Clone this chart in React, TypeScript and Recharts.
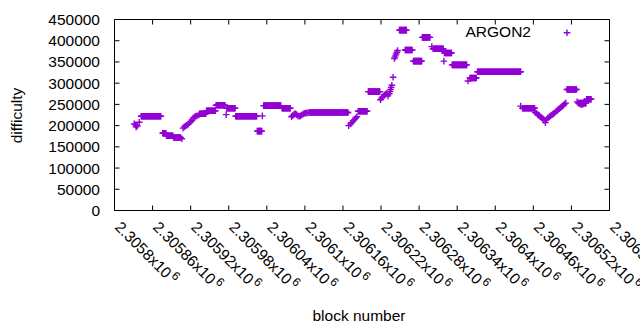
import React from 'react';
import { ScatterChart, Scatter, XAxis, YAxis, ReferenceArea, Legend } from 'recharts';

const FONT = '"Liberation Sans", Arial, Helvetica, sans-serif';
const FONT_SIZE = 15.5;
const COLOR = '#9400d3';
const SERIES_NAME = 'ARGON2';

const PLOT_TOP = 19.5;
const PLOT_BOTTOM = 210.5;
const PLOT_LEFT = 114.5;
const PLOT_RIGHT = 609.5;
const TICK_LEN = 5;

const xTicks = [
  2305800, 2305860, 2305920, 2305980, 2306040, 2306100, 2306160,
  2306220, 2306280, 2306340, 2306400, 2306460, 2306520, 2306580,
];
const yTicks = [0, 50000, 100000, 150000, 200000, 250000, 300000, 350000, 400000, 450000];

// Runs of consecutive blocks that share one difficulty value
const runStart = [
  2305842, 2305876, 2305882, 2305893, 2305934, 2305945, 2305960, 2305977, 2305991, 2306025,
  2306035, 2306064, 2306107, 2306184, 2306200, 2306249, 2306258, 2306271, 2306285, 2306302,
  2306320, 2306332, 2306360, 2306372, 2306443, 2306513, 2306531, 2306544,
];
const runEnd = [
  2305873, 2305881, 2305892, 2305904, 2305944, 2305959, 2305974, 2305990, 2306024, 2306032,
  2306062, 2306077, 2306168, 2306198, 2306218, 2306260, 2306269, 2306284, 2306297, 2306318,
  2306331, 2306355, 2306370, 2306440, 2306462, 2306528, 2306543, 2306551,
];
const runDifficulty = [
  222000, 182000, 176000, 172000, 228000, 235000, 248000, 241000, 222000, 187000,
  247000, 241000, 231000, 234000, 280000, 425000, 378000, 352000, 408000, 381000,
  371000, 343000, 312000, 327000, 241000, 285000, 253000, 262000,
];

// Individual blocks
const pointBlock = [
  2305831, 2305833, 2305834, 2305836, 2305839, 2305906,
  2305908, 2305910, 2305912, 2305914, 2305916, 2305918, 2305920, 2305922, 2305924, 2305926, 2305928, 2305930, 2305933,
  2305976, 2306033,
  2306079, 2306081, 2306083, 2306085, 2306087, 2306089, 2306091, 2306093, 2306095, 2306097, 2306099, 2306101, 2306103, 2306105,
  2306169, 2306172, 2306174, 2306176, 2306178, 2306180, 2306182,
  2306219, 2306221, 2306223, 2306225, 2306227, 2306229, 2306231, 2306233, 2306234, 2306235, 2306236, 2306237, 2306239,
  2306241, 2306242, 2306243, 2306244, 2306245, 2306246,
  2306300, 2306319, 2306357, 2306440,
  2306463, 2306465, 2306467, 2306469, 2306471, 2306473, 2306475, 2306477, 2306479, 2306481, 2306483, 2306485, 2306487,
  2306489, 2306491, 2306493, 2306495, 2306497, 2306499, 2306501, 2306503, 2306505, 2306507, 2306509, 2306511,
  2306529, 2306535, 2306538,
];
const pointDifficulty = [
  204000, 202000, 197000, 199000, 208000, 169000,
  194000, 197000, 199000, 201000, 203000, 207000, 209000, 212000, 218000, 220000, 222000, 223000, 225000,
  226000, 223000,
  221000, 224000, 227000, 228000, 226000, 223000, 222000, 223000, 225000, 227000, 229000, 229000, 230000, 230000,
  200000, 204000, 207000, 211000, 214000, 218000, 221000,
  261000, 265000, 268000, 272000, 274000, 276000, 270000, 275000, 280000, 285000, 290000, 295000, 314000,
  358000, 362000, 366000, 369000, 373000, 377000,
  386000, 352000, 305000, 246000,
  231000, 229000, 226000, 224000, 221000, 219000, 216000, 213000, 207000, 214000, 218000, 221000, 223000,
  225000, 227000, 229000, 232000, 235000, 238000, 240000, 242000, 245000, 248000, 251000, 253000,
  256000, 249000, 250000,
];

const data: { block: number; difficulty: number }[] = [];
runStart.forEach((s, i) => {
  for (let b = s; b <= runEnd[i]; b++) data.push({ block: b, difficulty: runDifficulty[i] });
});
pointBlock.forEach((b, i) => data.push({ block: b, difficulty: pointDifficulty[i] }));

const mantissa = (v: number) => {
  const s = String(v).slice(1).replace(/0+$/, '');
  return v.toString()[0] + '.' + s;
};

const XTick = (props: any) => {
  const { x, payload } = props;
  return (
    <g>
      <line x1={x} x2={x} y1={PLOT_BOTTOM} y2={PLOT_BOTTOM - TICK_LEN} stroke="#000" strokeWidth={1} />
      <line x1={x} x2={x} y1={PLOT_TOP} y2={PLOT_TOP + TICK_LEN} stroke="#000" strokeWidth={1} />
      <g transform={`translate(${x - 0.5},228) rotate(45)`}>
        <text x={0} y={0} fontFamily={FONT} fontSize={FONT_SIZE} fill="#000">
          {mantissa(payload.value)}x10
          <tspan dx={2} dy={-6} fontSize={12}>6</tspan>
        </text>
      </g>
    </g>
  );
};

const YTick = (props: any) => {
  const { y, payload } = props;
  return (
    <g>
      <line x1={PLOT_LEFT} x2={PLOT_LEFT + TICK_LEN} y1={y} y2={y} stroke="#000" strokeWidth={1} />
      <line x1={PLOT_RIGHT} x2={PLOT_RIGHT - TICK_LEN} y1={y} y2={y} stroke="#000" strokeWidth={1} />
      <text x={100} y={y + 5.5} textAnchor="end" fontFamily={FONT} fontSize={FONT_SIZE} fill="#000">
        {payload.value}
      </text>
    </g>
  );
};

const Plus = (props: any) => {
  const { cx, cy } = props;
  if (cx == null || cy == null) return <g />;
  const h = 3.3;
  return (
    <path
      d={`M${cx - h},${cy}H${cx + h}M${cx},${cy - h}V${cy + h}`}
      stroke={COLOR}
      strokeWidth={1.4}
      fill="none"
    />
  );
};

const LegendContent = (props: any) => {
  const name = props.payload && props.payload[0] ? props.payload[0].value : SERIES_NAME;
  return (
    <svg width={160} height={24} style={{ display: 'block' }}>
      <text x={91} y={15.3} textAnchor="end" fontFamily={FONT} fontSize={FONT_SIZE} fill="#000">
        {name}
      </text>
      <path d="M123.7,10.7H130.3M127,7.4V14" stroke={COLOR} strokeWidth={1.4} fill="none" />
    </svg>
  );
};

export default function App() {
  return (
    <div style={{ position: 'absolute', left: 0, top: 0, width: 640, height: 330, background: '#fff' }}>
      <ScatterChart
        width={640}
        height={330}
        margin={{ top: PLOT_TOP, right: 640 - PLOT_RIGHT, left: 0.5, bottom: 0.5 }}
      >
        <XAxis
          dataKey="block"
          type="number"
          domain={[xTicks[0], xTicks[xTicks.length - 1]]}
          ticks={xTicks}
          interval={0}
          height={119}
          axisLine={false}
          tickLine={false}
          tick={<XTick />}
          label={() => (
            <text x={359} y={321} textAnchor="middle" fontFamily={FONT} fontSize={FONT_SIZE} fill="#000">
              block number
            </text>
          )}
        />
        <YAxis
          dataKey="difficulty"
          type="number"
          domain={[yTicks[0], yTicks[yTicks.length - 1]]}
          ticks={yTicks}
          interval={0}
          width={114}
          axisLine={false}
          tickLine={false}
          tick={<YTick />}
          label={() => (
            <text
              x={21.5}
              y={115.5}
              textAnchor="middle"
              transform="rotate(-90 21.5 115.5)"
              fontFamily={FONT}
              fontSize={FONT_SIZE}
              fill="#000"
            >
              difficulty
            </text>
          )}
        />
        <ReferenceArea
          x1={xTicks[0]}
          x2={xTicks[xTicks.length - 1]}
          y1={yTicks[0]}
          y2={yTicks[yTicks.length - 1]}
          fill="none"
          fillOpacity={0}
          stroke="#000"
          strokeWidth={1}
          strokeOpacity={1}
        />
        <Legend
          layout="vertical"
          align="center"
          verticalAlign="middle"
          content={<LegendContent />}
          wrapperStyle={{ position: 'absolute', left: 440, top: 22, width: 160, height: 24 }}
        />
        <Scatter
          name={SERIES_NAME}
          data={data}
          fill={COLOR}
          shape={<Plus />}
          isAnimationActive={false}
        />
      </ScatterChart>
    </div>
  );
}
